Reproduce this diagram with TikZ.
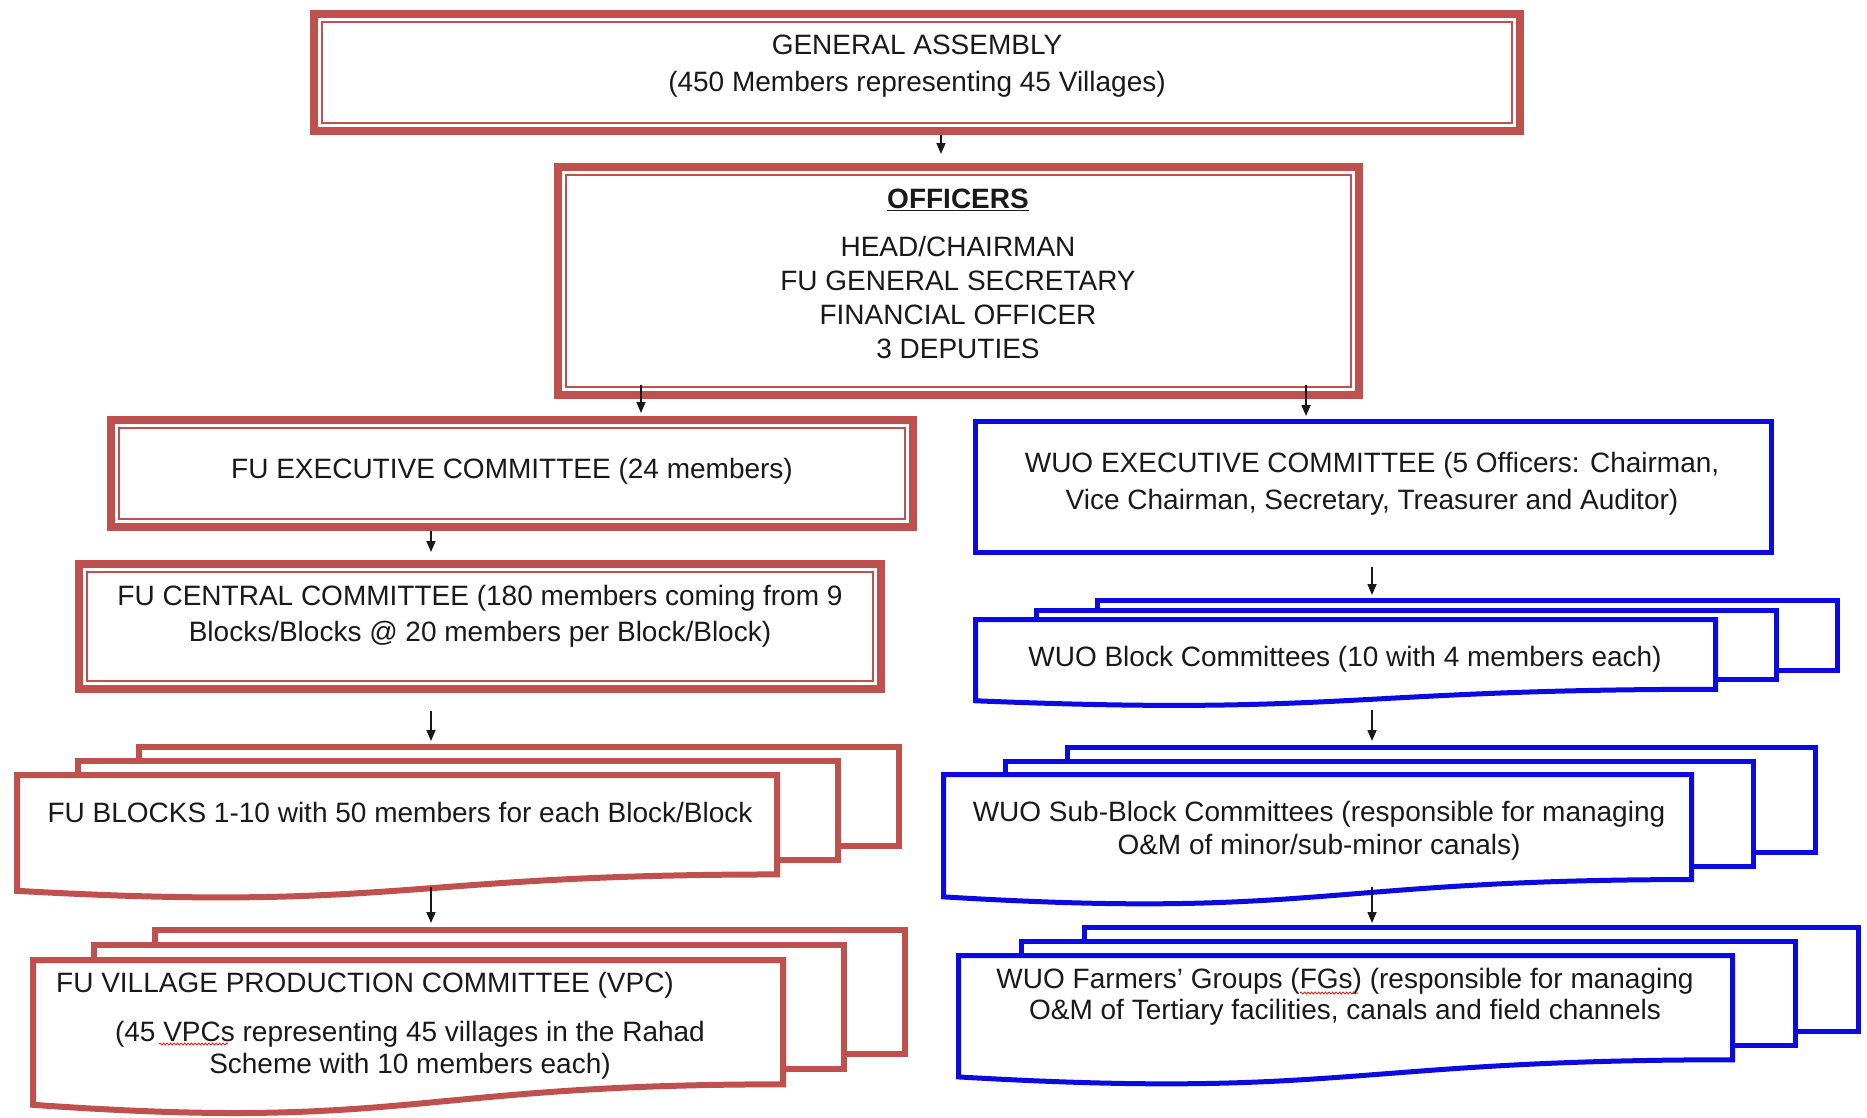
\documentclass[tikz,border=0pt]{standalone}
\usepackage{fontspec}
\setmainfont{Liberation Sans}
\usetikzlibrary{arrows.meta,decorations.pathmorphing}
\definecolor{fured}{HTML}{C0504D}
\definecolor{wuoblue}{RGB}{10,10,225}
\definecolor{ink}{RGB}{25,25,25}

% stacked "multi-document" symbol: two back pages and a front page with a wavy foot
% #1 style, #2 width, #3 page height, #4 x offset of back pages, #5 y offset of back pages
\newcommand\multidoc[5]{%
  \path[#1] ({2*#4},{-2*#5}) rectangle ++(#2,{0.802*#3});
  \path[#1] (#4,{-#5}) rectangle ++(#2,{0.802*#3});
  \path[#1] (0,0) -- (#2,0) -- (#2,{0.802*#3})
    .. controls ({0.5*#2},{0.802*#3}) and ({0.5*#2},{1.107*#3}) .. (0,{0.934*#3}) -- cycle;}

\begin{document}
\begin{tikzpicture}[x=1pt,y=-1pt,
  redframe/.style={draw=fured, line width=8pt, fill=white, inner sep=0pt},
  blueframe/.style={draw=wuoblue, line width=5pt, fill=white, inner sep=0pt},
  innerline/.style={draw=fured, line width=2pt},
  reddoc/.style={draw=fured, line width=6pt, fill=white},
  bluedoc/.style={draw=wuoblue, line width=5pt, fill=white},
  group/.style={inner sep=0pt, anchor=north west},
  lbl/.style={inner sep=0pt, align=center, text=ink,
    execute at begin node=\strut, execute at end node=\strut},
  arr/.style={draw=ink, line width=1.6pt, -{Triangle[length=11pt,width=9pt]}},
  spell/.style={draw=red, line width=0.7pt, decorate,
    decoration={snake, amplitude=1.1pt, segment length=3.5pt}}]

\fill[white] (0,0) rectangle (1867,1117);
\useasboundingbox (0,0) rectangle (1867,1117);

% ---------- framed boxes ----------
\node[redframe, minimum width=1206pt, minimum height=117pt] (ga) at (917,72.5) {};
\draw[innerline] ([shift={(12pt,-12pt)}]ga.north west) rectangle ([shift={(-12pt,12pt)}]ga.south east);

\node[redframe, minimum width=801pt, minimum height=228pt] (off) at (958.5,281) {};
\draw[innerline] ([shift={(12pt,-12pt)}]off.north west) rectangle ([shift={(-12pt,12pt)}]off.south east);

\node[redframe, minimum width=802pt, minimum height=107pt] (fuexec) at (512,473.5) {};
\draw[innerline] ([shift={(12pt,-12pt)}]fuexec.north west) rectangle ([shift={(-12pt,12pt)}]fuexec.south east);

\node[redframe, minimum width=802pt, minimum height=125pt] (central) at (480,626.5) {};
\draw[innerline] ([shift={(12pt,-12pt)}]central.north west) rectangle ([shift={(-12pt,12pt)}]central.south east);

\node[blueframe, minimum width=796pt, minimum height=131pt] (wexec) at (1373.5,487) {};

% ---------- stacked documents ----------
\begin{scope}[shift={(17,775)}]
  \multidoc{reddoc}{760}{124}{61}{14}
\end{scope}
\node[group, minimum width=882pt, minimum height=150pt] (blocks) at (17,747) {};

\begin{scope}[shift={(33,960)}]
  \multidoc{reddoc}{750}{155}{61}{15}
\end{scope}
\node[group, minimum width=872pt, minimum height=183pt] (vpc) at (33,930) {};

\begin{scope}[shift={(975.5,619.5)}]
  \multidoc{bluedoc}{740}{87}{61}{9.5}
\end{scope}
\node[group, minimum width=862pt, minimum height=105pt] (wblk) at (975.5,600.5) {};

\begin{scope}[shift={(943.5,774.5)}]
  \multidoc{bluedoc}{748}{131}{62}{13.5}
\end{scope}
\node[group, minimum width=872pt, minimum height=156pt] (wsub) at (943.5,747.5) {};

\begin{scope}[shift={(958.5,955.5)}]
  \multidoc{bluedoc}{774}{130}{63}{14}
\end{scope}
\node[group, minimum width=900pt, minimum height=156pt] (wfg) at (958.5,927.5) {};

% ---------- texts ----------
\node[lbl, font=\fontsize{28}{37}\selectfont] (ga-t) at (917,69)
  {GENERAL ASSEMBLY\\(450 Members representing 45 Villages)};
\node[lbl, font=\fontsize{28}{34}\selectfont] (off-t) at (958,278.5)
  {\textbf{\underline{OFFICERS}}\\[14pt]HEAD/CHAIRMAN\\FU GENERAL SECRETARY\\FINANCIAL OFFICER\\3 DEPUTIES};
\node[lbl, font=\fontsize{28}{36}\selectfont] (fuexec-t) at (512,471)
  {FU EXECUTIVE COMMITTEE (24 members)};
\node[lbl, font=\fontsize{28}{36}\selectfont] (central-t) at (480,618.5)
  {FU CENTRAL COMMITTEE (180 members coming from 9\\Blocks/Blocks @ 20 members per Block/Block)};
\node[lbl, font=\fontsize{28}{37}\selectfont] (wexec-t) at (1372,486)
  {WUO EXECUTIVE COMMITTEE (5 Officers: Chairman,\\Vice Chairman, Secretary, Treasurer and Auditor)};
\node[lbl, font=\fontsize{28}{36}\selectfont] (blocks-t) at (400,815)
  {FU BLOCKS 1-10 with 50 members for each Block/Block};
\node[lbl, font=\fontsize{28}{32}\selectfont, anchor=west] (vpc-h) at (56,985.6)
  {FU VILLAGE PRODUCTION COMMITTEE (VPC)};
\node[lbl, font=\fontsize{28}{32}\selectfont] (vpc-t) at (410,1052)
  {(45 VPCs representing 45 villages in the Rahad\\Scheme with 10 members each)};
\node[lbl, font=\fontsize{28}{36}\selectfont] (wblk-t) at (1345,659)
  {WUO Block Committees (10 with 4 members each)};
\node[lbl, font=\fontsize{28}{33}\selectfont] (wsub-t) at (1319,833)
  {WUO Sub-Block Committees (responsible for managing\\O\&M of minor/sub-minor canals)};
\node[lbl, font=\fontsize{28}{31}\selectfont] (wfg-t) at (1345,998)
  {WUO Farmers’ Groups (FGs) (responsible for managing\\O\&M of Tertiary facilities, canals and field channels};

% spell-check marks under two words
\draw[spell] (159,1044) -- (228,1044);
\draw[spell] (1300,993) -- (1358,993);

% ---------- connectors ----------
\coordinate (colA) at (941,0);
\coordinate (colB) at (641,0);
\coordinate (colC) at (1306,0);
\coordinate (colL) at (431,0);
\coordinate (colR) at (1372,0);

\draw[arr, shorten >=9pt] (ga.south -| colA) -- (off.north -| colA);
\draw[arr, shorten >=3pt] ([yshift=14pt]off.south -| colB) -- (fuexec.north -| colB);
\draw[arr, shorten >=3pt] ([yshift=14pt]off.south -| colC) -- (wexec.north -| colC);
\draw[arr, shorten >=8pt] (fuexec.south -| colL) -- (central.north -| colL);
\draw[arr, shorten <=18pt, shorten >=6pt] (central.south -| colL) -- (blocks.north -| colL);
\draw[arr, shorten >=7pt] ([yshift=10pt]blocks.south -| colL) -- (vpc.north -| colL);
\draw[arr, shorten <=12pt, shorten >=5.5pt] (wexec.south -| colR) -- (wblk.north -| colR);
\draw[arr, shorten >=6.5pt] ([yshift=-4.5pt]wblk.south -| colR) -- (wsub.north -| colR);
\draw[arr, shorten >=4.5pt] ([yshift=16.5pt]wsub.south -| colR) -- (wfg.north -| colR);
\end{tikzpicture}
\end{document}
